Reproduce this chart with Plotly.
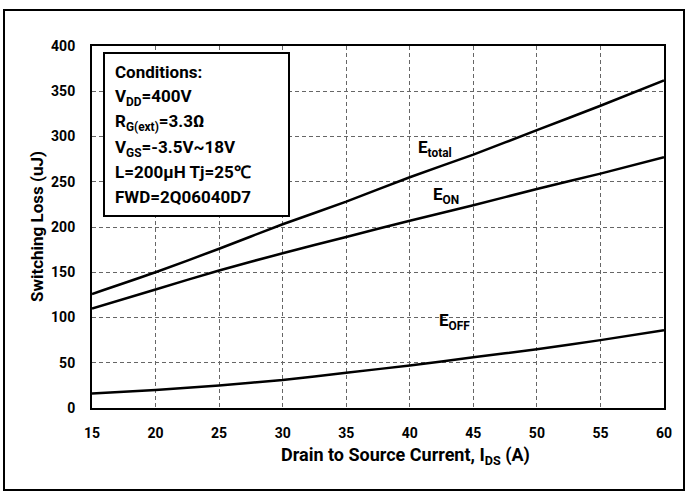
import plotly.graph_objects as go

# ---- data ----
current = [15, 20, 25, 30, 35, 40, 45, 50, 55, 60]
e_total = [126, 150, 176, 203, 228, 255, 280, 307, 334, 362]
e_on = [110, 131, 152, 171, 189, 207, 224, 242, 259, 277]
e_off = [16, 20, 25, 31, 39, 47, 56, 65, 75, 86]

x_ticks = [15, 20, 25, 30, 35, 40, 45, 50, 55, 60]
y_ticks = [0, 50, 100, 150, 200, 250, 300, 350, 400]

conditions = [
    "Conditions:",
    "V<sub>DD</sub>=400V",
    "R<sub>G(ext)</sub>=3.3Ω",
    "V<sub>GS</sub>=-3.5V~18V",
    "L=200μH Tj=25℃",
    "FWD=2Q06040D7",
]

W, H = 686, 492
L, R, T, B = 92, 664, 46, 408
FONT = "Roboto, Lato, Open Sans, sans-serif"


def px(x):
    return (x - L) / (R - L)


def py(y):
    return (B - y) / (B - T)


fig = go.Figure()
for ys in (e_total, e_on, e_off):
    fig.add_trace(go.Scatter(x=current, y=ys, mode="lines",
                             line=dict(color="black", width=2.5, shape="spline", smoothing=0.6),
                             showlegend=False, hoverinfo="skip"))

axis_common = dict(showline=True, linecolor="black", linewidth=2, mirror=True,
                   showgrid=True, gridcolor="#666666", gridwidth=1, griddash="4px,3px",
                   zeroline=False, ticks="",
                   tickfont=dict(family=FONT, size=14, color="black", weight="bold"))

fig.update_xaxes(range=[15, 60], tickvals=x_ticks, ticklabelstandoff=11, **axis_common)
fig.update_yaxes(range=[0, 400], tickvals=y_ticks, ticklabelstandoff=12, **axis_common)

shapes = [
    # outer frame
    dict(type="rect", xref="paper", yref="paper",
         x0=px(4), x1=px(684), y0=py(490), y1=py(10),
         line=dict(color="black", width=2), fillcolor="rgba(0,0,0,0)", layer="above"),
    # conditions box
    dict(type="rect", xref="paper", yref="paper",
         x0=px(104), x1=px(289), y0=py(216), y1=py(53),
         line=dict(color="black", width=2), fillcolor="white", layer="above"),
]

annotations = []
line_y = [72, 97, 123, 148, 172, 197]
for txt, yy in zip(conditions, line_y):
    annotations.append(dict(xref="paper", yref="paper", x=px(113), y=py(yy),
                            xanchor="left", yanchor="middle", showarrow=False, text=txt,
                            font=dict(family=FONT, size=17, color="black", weight="bold")))

# curve labels
for txt, xx, yy in [("E<sub>total</sub>", 416, 148), ("E<sub>ON</sub>", 431, 195), ("E<sub>OFF</sub>", 437, 321)]:
    annotations.append(dict(xref="paper", yref="paper", x=px(xx), y=py(yy),
                            xanchor="left", yanchor="middle", showarrow=False, text=txt,
                            font=dict(family=FONT, size=17, color="black", weight="bold")))

# axis titles
annotations.append(dict(xref="paper", yref="paper", x=px(405), y=py(456),
                        xanchor="center", yanchor="middle", showarrow=False,
                        text="Drain to Source Current, I<sub>DS</sub> (A)",
                        font=dict(family=FONT, size=18, color="black", weight="bold")))
annotations.append(dict(xref="paper", yref="paper", x=px(37), y=py(227),
                        xanchor="center", yanchor="middle", textangle=-90, showarrow=False,
                        text="Switching Loss (uJ)",
                        font=dict(family=FONT, size=17, color="black", weight="bold")))

fig.update_layout(width=W, height=H, margin=dict(l=L, r=W - R, t=T, b=H - B),
                  paper_bgcolor="white", plot_bgcolor="white",
                  shapes=shapes, annotations=annotations)

fig.write_html("out.html", config={"displayModeBar": False},
               post_script="document.body.style.margin='0';")
